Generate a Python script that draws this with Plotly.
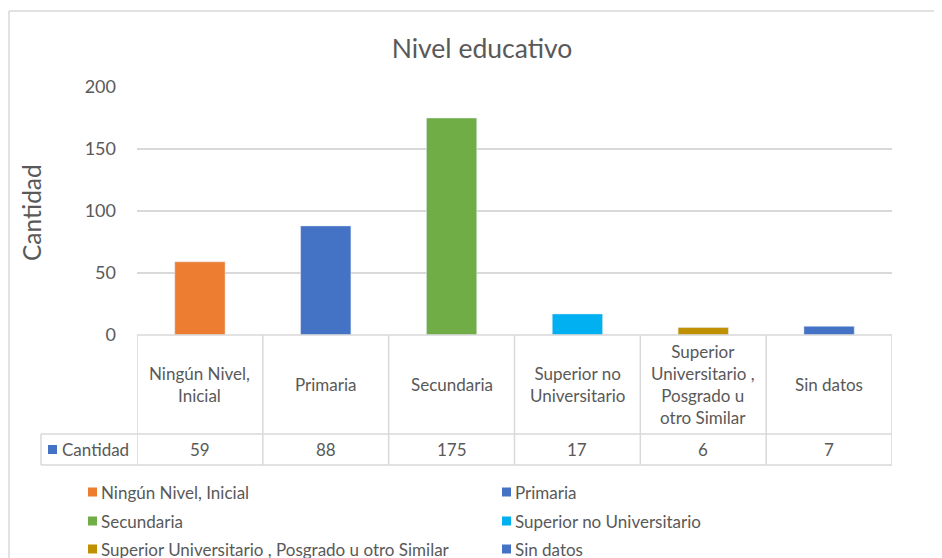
import plotly.graph_objects as go

# ---------------- data ----------------
categories = ["Ningún Nivel, Inicial", "Primaria", "Secundaria",
              "Superior no Universitario",
              "Superior Universitario , Posgrado u otro Similar", "Sin datos"]
header_labels = ["Ningún Nivel,<br>Inicial", "Primaria", "Secundaria",
                 "Superior no<br>Universitario",
                 "Superior<br>Universitario ,<br>Posgrado u<br>otro Similar",
                 "Sin datos"]
values = [59, 88, 175, 17, 6, 7]
colors = ["#ED7D31", "#4472C4", "#70AD47", "#00B0F0", "#BF9000", "#4472C4"]
series_name = "Cantidad"
y_ticks = [0, 50, 100, 150, 200]

# ---------------- layout geometry (window pixels) ----------------
OFF = 8  # page body margin: figure starts at (8, 8) in the window
W, H = 942 - OFF, 558 - OFF
PL, PR, PT, PB = 137 - OFF, 892 - OFF, 87 - OFF, 335 - OFF
PW, PH = PR - PL, PB - PT
FONT = "Lato"
TXT = "#595959"
GRID = "#D9D9D9"


def px_x(x):
    return (x - OFF - PL) / PW


def px_y(y):
    return (PB - (y - OFF)) / PH


fig = go.Figure()
for cat, v, c in zip(categories, values, colors):
    fig.add_trace(go.Bar(x=[cat], y=[v], name=cat, marker_color=c,
                         width=0.4, showlegend=False))

shapes = []
annotations = []

# outer chart frame
shapes.append(dict(type="line", xref="paper", yref="paper",
                   x0=px_x(9), x1=px_x(950), y0=px_y(11), y1=px_y(11),
                   line=dict(color=GRID, width=1.5)))
shapes.append(dict(type="line", xref="paper", yref="paper",
                   x0=px_x(9), x1=px_x(9), y0=px_y(11), y1=px_y(570),
                   line=dict(color=GRID, width=1.5)))

# data table
TOP, ROW1, ROW2 = 335, 434, 465
n = len(categories)
tl = dict(color=GRID, width=1.5)
shapes.append(dict(type="line", xref="x", yref="paper", x0=-0.5, x1=n - 0.5,
                   y0=px_y(TOP), y1=px_y(TOP), line=tl))
for yy in (ROW1, ROW2):
    shapes.append(dict(type="line", xref="paper", yref="paper",
                       x0=px_x(41), x1=1, y0=px_y(yy), y1=px_y(yy), line=tl))
for i in range(n + 1):
    shapes.append(dict(type="line", xref="x", yref="paper",
                       x0=i - 0.5, x1=i - 0.5, y0=px_y(TOP), y1=px_y(ROW2), line=tl))
shapes.append(dict(type="line", xref="paper", yref="paper",
                   x0=px_x(41), x1=px_x(41), y0=px_y(ROW1), y1=px_y(ROW2), line=tl))

for cat, lab, v in zip(categories, header_labels, values):
    annotations.append(dict(x=cat, xref="x", y=px_y((TOP + ROW1) / 2), yref="paper",
                            text=lab, showarrow=False, align="center",
                            xanchor="center", yanchor="middle",
                            font=dict(family=FONT, size=17, color=TXT)))
    annotations.append(dict(x=cat, xref="x", y=px_y((ROW1 + ROW2) / 2), yref="paper",
                            text=str(v), showarrow=False,
                            xanchor="center", yanchor="middle",
                            font=dict(family=FONT, size=17, color=TXT)))

# series key in table
shapes.append(dict(type="rect", xref="paper", yref="paper",
                   x0=px_x(48), x1=px_x(57), y0=px_y(445), y1=px_y(454),
                   fillcolor=colors[1], line=dict(width=0)))
annotations.append(dict(x=px_x(60), xref="paper", y=px_y((ROW1 + ROW2) / 2), yref="paper",
                        text=series_name, showarrow=False, xanchor="left", yanchor="middle",
                        font=dict(family=FONT, size=17, color=TXT)))

# legend (two columns)
leg_x = [88, 502]
leg_y = [492, 521, 549]
for i, (cat, c) in enumerate(zip(categories, colors)):
    lx = leg_x[i % 2]
    ly = leg_y[i // 2]
    shapes.append(dict(type="rect", xref="paper", yref="paper",
                       x0=px_x(lx), x1=px_x(lx + 9), y0=px_y(ly - 4.5), y1=px_y(ly + 4.5),
                       fillcolor=c, line=dict(width=0)))
    annotations.append(dict(x=px_x(lx + 11), xref="paper", y=px_y(ly), yref="paper",
                            text=cat, showarrow=False, xanchor="left", yanchor="middle",
                            font=dict(family=FONT, size=17, color=TXT)))

# y-axis title
annotations.append(dict(x=px_x(31), xref="paper", y=px_y(212), yref="paper",
                        text=series_name, textangle=-90, showarrow=False,
                        xanchor="center", yanchor="middle",
                        font=dict(family=FONT, size=24.5, color=TXT)))

fig.update_layout(
    width=W, height=H, autosize=False,
    margin=dict(l=PL, r=W - PR, t=PT, b=H - PB, pad=0),
    paper_bgcolor="white", plot_bgcolor="white",
    barmode="overlay", showlegend=False,
    title=dict(text="Nivel educativo", x=(482 - OFF) / W, xref="container",
               xanchor="center", y=1 - (49 - OFF) / H, yref="container",
               yanchor="middle",
               font=dict(family=FONT, size=26.5, color=TXT)),
    xaxis=dict(type="category", range=[-0.5, n - 0.5], showticklabels=False,
               showgrid=False, zeroline=False, showline=False, ticks=""),
    yaxis=dict(range=[0, 200], tickvals=y_ticks, showgrid=True, gridcolor=GRID,
               gridwidth=1.5, zeroline=False, showline=False, ticks="",
               ticklabelstandoff=20,
               tickfont=dict(family=FONT, size=18, color=TXT)),
    shapes=shapes, annotations=annotations,
)

fig.write_html("out.html")
